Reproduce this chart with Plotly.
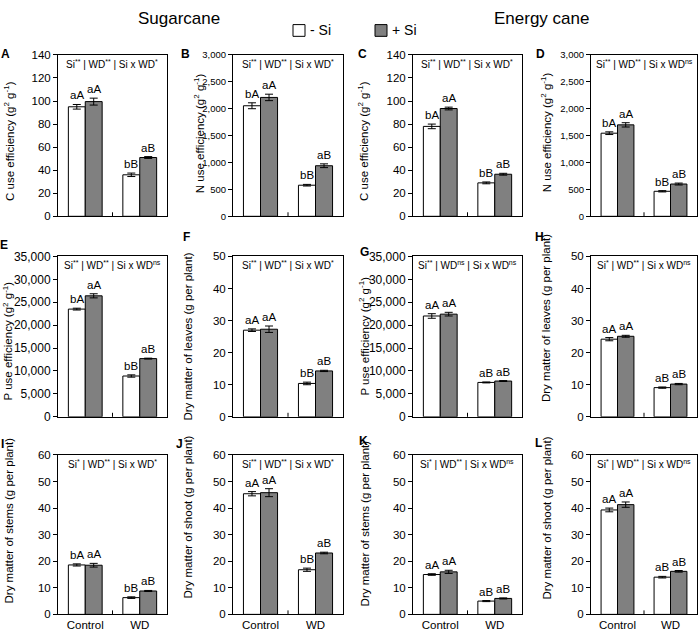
import plotly.graph_objects as go

W, H = 700, 638
FONT = "Liberation Sans, Arial, sans-serif"

conditions = ["Control", "WD"]
series_names = ["- Si", "+ Si"]

# ---- data (mean, error, significance letters) ----
A_minus = [95.0, 36.0];      A_minus_err = [2.0, 1.5];    A_minus_lbl = ["aA", "bB"]
A_plus = [99.5, 51.0];       A_plus_err = [3.0, 0.8];     A_plus_lbl = ["aA", "aB"]
B_minus = [2055, 578];       B_minus_err = [55, 15];      B_minus_lbl = ["bA", "bB"]
B_plus = [2210, 940];        B_plus_err = [60, 35];       B_plus_lbl = ["aA", "aB"]
C_minus = [78.0, 29.0];      C_minus_err = [2.0, 0.8];    C_minus_lbl = ["bA", "bB"]
C_plus = [93.5, 36.5];       C_plus_err = [1.2, 0.8];     C_plus_lbl = ["aA", "aB"]
D_minus = [1545, 465];       D_minus_err = [25, 12];      D_minus_lbl = ["bA", "bB"]
D_plus = [1700, 600];        D_plus_err = [40, 18];       D_plus_lbl = ["aA", "aB"]
E_minus = [23500, 8900];     E_minus_err = [200, 250];    E_minus_lbl = ["bA", "bB"]
E_plus = [26400, 12700];     E_plus_err = [450, 100];     E_plus_lbl = ["aA", "aB"]
F_minus = [27.0, 10.4];      F_minus_err = [0.4, 0.4];    F_minus_lbl = ["aA", "bB"]
F_plus = [27.3, 14.3];       F_plus_err = [1.0, 0.2];     F_plus_lbl = ["aA", "aB"]
G_minus = [22000, 7500];     G_minus_err = [500, 100];    G_minus_lbl = ["aA", "aB"]
G_plus = [22400, 7800];      G_plus_err = [400, 100];     G_plus_lbl = ["aA", "aB"]
H_minus = [24.2, 9.1];       H_minus_err = [0.5, 0.2];    H_minus_lbl = ["aA", "aB"]
H_plus = [25.1, 10.2];       H_plus_err = [0.3, 0.2];     H_plus_lbl = ["aA", "aB"]
I_minus = [18.6, 6.3];       I_minus_err = [0.4, 0.3];    I_minus_lbl = ["bA", "bB"]
I_plus = [18.5, 8.8];        I_plus_err = [0.7, 0.2];     I_plus_lbl = ["aA", "aB"]
J_minus = [45.4, 16.8];      J_minus_err = [0.8, 0.6];    J_minus_lbl = ["aA", "bB"]
J_plus = [45.8, 23.1];       J_plus_err = [1.5, 0.3];     J_plus_lbl = ["aA", "aB"]
K_minus = [15.0, 5.0];       K_minus_err = [0.3, 0.2];    K_minus_lbl = ["aA", "aB"]
K_plus = [16.0, 6.0];        K_plus_err = [0.6, 0.2];     K_plus_lbl = ["aA", "aB"]
L_minus = [39.3, 14.0];      L_minus_err = [0.7, 0.3];    L_minus_lbl = ["aA", "aB"]
L_plus = [41.3, 16.2];       L_plus_err = [1.0, 0.3];     L_plus_lbl = ["aA", "aB"]

y_titles = {
    "A": "C use efficiency (g<sup>2</sup> g<sup>-1</sup>)",
    "B": "N use efficiency (g<sup>2</sup> g<sup>-1</sup>)",
    "C": "C use efficiency (g<sup>2</sup> g<sup>-1</sup>)",
    "D": "N use efficiency (g<sup>2</sup> g<sup>-1</sup>)",
    "E": "P use efficiency (g<sup>2</sup> g<sup>-1</sup>)",
    "F": "Dry matter of leaves (g per plant)",
    "G": "P use efficiency (g<sup>2</sup> g<sup>-1</sup>)",
    "H": "Dry matter of leaves (g per plant)",
    "I": "Dry matter of stems (g per plant)",
    "J": "Dry matter of shoot (g per plant)",
    "K": "Dry matter of stems (g per plant)",
    "L": "Dry matter of shoot (g per plant)",
}
stats_text = {
    "A": "Si<sup>**</sup> | WD<sup>**</sup> | Si x WD<sup>*</sup>",
    "B": "Si<sup>**</sup> | WD<sup>**</sup> | Si x WD<sup>*</sup>",
    "C": "Si<sup>**</sup> | WD<sup>**</sup> | Si x WD<sup>*</sup>",
    "D": "Si<sup>**</sup> | WD<sup>**</sup> | Si x WD<sup>ns</sup>",
    "E": "Si<sup>**</sup> | WD<sup>**</sup> | Si x WD<sup>ns</sup>",
    "F": "Si<sup>**</sup> | WD<sup>**</sup> | Si x WD<sup>*</sup>",
    "G": "Si<sup>**</sup> | WD<sup>ns</sup> | Si x WD<sup>ns</sup>",
    "H": "Si<sup>*</sup> | WD<sup>**</sup> | Si x WD<sup>ns</sup>",
    "I": "Si<sup>*</sup> | WD<sup>**</sup> | Si x WD<sup>*</sup>",
    "J": "Si<sup>**</sup> | WD<sup>**</sup> | Si x WD<sup>*</sup>",
    "K": "Si<sup>*</sup> | WD<sup>**</sup> | Si x WD<sup>ns</sup>",
    "L": "Si<sup>*</sup> | WD<sup>**</sup> | Si x WD<sup>ns</sup>",
}
y_max = {"A": 140, "B": 3000, "C": 140, "D": 3000, "E": 35000, "F": 50,
         "G": 35000, "H": 50, "I": 60, "J": 60, "K": 60, "L": 60}
y_dtick = {"A": 20, "B": 500, "C": 20, "D": 500, "E": 5000, "F": 10,
           "G": 5000, "H": 10, "I": 10, "J": 10, "K": 10, "L": 10}

data = {
    "A": (A_minus, A_minus_err, A_minus_lbl, A_plus, A_plus_err, A_plus_lbl),
    "B": (B_minus, B_minus_err, B_minus_lbl, B_plus, B_plus_err, B_plus_lbl),
    "C": (C_minus, C_minus_err, C_minus_lbl, C_plus, C_plus_err, C_plus_lbl),
    "D": (D_minus, D_minus_err, D_minus_lbl, D_plus, D_plus_err, D_plus_lbl),
    "E": (E_minus, E_minus_err, E_minus_lbl, E_plus, E_plus_err, E_plus_lbl),
    "F": (F_minus, F_minus_err, F_minus_lbl, F_plus, F_plus_err, F_plus_lbl),
    "G": (G_minus, G_minus_err, G_minus_lbl, G_plus, G_plus_err, G_plus_lbl),
    "H": (H_minus, H_minus_err, H_minus_lbl, H_plus, H_plus_err, H_plus_lbl),
    "I": (I_minus, I_minus_err, I_minus_lbl, I_plus, I_plus_err, I_plus_lbl),
    "J": (J_minus, J_minus_err, J_minus_lbl, J_plus, J_plus_err, J_plus_lbl),
    "K": (K_minus, K_minus_err, K_minus_lbl, K_plus, K_plus_err, K_plus_lbl),
    "L": (L_minus, L_minus_err, L_minus_lbl, L_plus, L_plus_err, L_plus_lbl),
}

# ---- layout geometry (pixels) ----
col_x = [(58, 167), (233, 343), (413, 522), (591, 697)]
row_y = [(49, 214), (255, 419), (458, 621)]
tick_size = {"A": 11.5, "B": 9.5, "C": 11.5, "D": 9.5, "E": 12, "F": 11.5,
             "G": 12, "H": 11.5, "I": 11.5, "J": 11.5, "K": 11.5, "L": 11.5}
ytitle_pos = {"A": (9, 137), "B": (199, 129), "C": (363, 137), "D": (546, 128),
              "E": (8, 342), "F": (188, 337), "G": (364, 337), "H": (546, 318),
              "I": (9, 525), "J": (188, 522), "K": (365, 528), "L": (547, 523)}
letter_pos = {"A": (5, 48), "B": (185, 48), "C": (362, 48), "D": (540, 48),
              "E": (4, 243), "F": (186, 235), "G": (364, 251), "H": (539, 235),
              "I": (2, 447), "J": (180, 447), "K": (363, 444), "L": (538, 446)}

def px(x):
    return x / W

def py(y):
    return 1 - y / H

fig = go.Figure()
layout = dict(
    width=W, height=H, margin=dict(l=0, r=0, t=0, b=0),
    paper_bgcolor="white", plot_bgcolor="white",
    barmode="group", bargap=0.38, bargroupgap=0,
    showlegend=False, font=dict(family=FONT, color="black"),
)
annotations = []
shapes = []
BAR_OFF = 0.155

for i, key in enumerate("ABCDEFGHIJKL"):
    r, c = divmod(i, 4)
    n = i + 1
    xa = "x" if n == 1 else f"x{n}"
    ya = "y" if n == 1 else f"y{n}"
    mv, me, ml, pv, pe, pl = data[key]
    for vals, errs, fill, name in ((mv, me, "white", series_names[0]),
                                   (pv, pe, "#808080", series_names[1])):
        fig.add_trace(go.Bar(
            x=conditions, y=vals, name=name, xaxis=xa, yaxis=ya,
            marker=dict(color=fill, line=dict(color="black", width=1)),
            error_y=dict(type="data", array=errs, color="black", thickness=1, width=4),
            hoverinfo="skip",
        ))
    x0, x1 = col_x[c]
    y0, y1 = row_y[r]
    layout["xaxis" if n == 1 else f"xaxis{n}"] = dict(
        domain=[px(x0), px(x1)], anchor=ya, type="category",
        categoryorder="array", categoryarray=conditions, range=[-0.5, 1.5],
        showline=True, mirror=True, linecolor="black", linewidth=1,
        ticks="", showgrid=False, zeroline=False,
        showticklabels=(r == 2), tickfont=dict(size=11.5, family=FONT),
    )
    layout["yaxis" if n == 1 else f"yaxis{n}"] = dict(
        domain=[py(y1), py(y0)], anchor=xa, range=[0, y_max[key]], dtick=y_dtick[key],
        showline=True, mirror=True, linecolor="black", linewidth=1,
        ticks="outside", ticklen=4, tickwidth=1, tickcolor="black",
        showgrid=False, zeroline=False, tickformat=",",
        tickfont=dict(size=tick_size[key], family=FONT),
    )
    # middle tick between groups
    shapes.append(dict(type="line", xref=xa, yref=f"{ya} domain", x0=0.5, x1=0.5,
                       y0=0, y1=0.025, line=dict(color="black", width=1)))
    # letters above bars
    for j in range(2):
        for vals, errs, lbls, off in ((mv, me, ml, -BAR_OFF), (pv, pe, pl, BAR_OFF)):
            annotations.append(dict(
                x=j + off, y=vals[j] + errs[j], xref=xa, yref=ya, text=lbls[j],
                showarrow=False, xanchor="center", yanchor="bottom", yshift=1,
                font=dict(size=11.5, family=FONT)))
    # stats text at top of panel
    annotations.append(dict(
        x=(px(x0) + px(x1)) / 2, y=py(y0 + 1), xref="paper", yref="paper",
        text=stats_text[key], showarrow=False, xanchor="center", yanchor="top",
        font=dict(size=10, family=FONT)))
    # y axis title
    tx, ty = ytitle_pos[key]
    annotations.append(dict(
        x=px(tx), y=py(ty), xref="paper", yref="paper", text=y_titles[key],
        textangle=-90, showarrow=False, xanchor="center", yanchor="middle",
        font=dict(size=11.5, family=FONT)))
    # panel letter
    lx, ly = letter_pos[key]
    annotations.append(dict(
        x=px(lx), y=py(ly), xref="paper", yref="paper", text=f"<b>{key}</b>",
        showarrow=False, xanchor="center", yanchor="middle",
        font=dict(size=12, family=FONT)))

# column titles
for txt, cx in (("Sugarcane", 179), ("Energy cane", 541)):
    annotations.append(dict(x=px(cx), y=py(12), xref="paper", yref="paper", text=txt,
                            showarrow=False, xanchor="center", yanchor="middle",
                            font=dict(size=17, family=FONT)))

# legend (drawn)
for (bx, fill, label) in ((293, "white", series_names[0]), (375, "#808080", series_names[1])):
    shapes.append(dict(type="rect", xref="paper", yref="paper",
                       x0=px(bx), x1=px(bx + 12), y0=py(30), y1=py(18),
                       fillcolor=fill, line=dict(color="black", width=1)))
    annotations.append(dict(x=px(bx + 15), y=py(24), xref="paper", yref="paper",
                            text=label, showarrow=False, xanchor="left", yanchor="middle",
                            font=dict(size=14, family=FONT)))

layout["annotations"] = annotations
layout["shapes"] = shapes
fig.update_layout(**layout)
fig.write_html("out.html", config={"displayModeBar": False},
               post_script="document.body.style.margin='0px';")
